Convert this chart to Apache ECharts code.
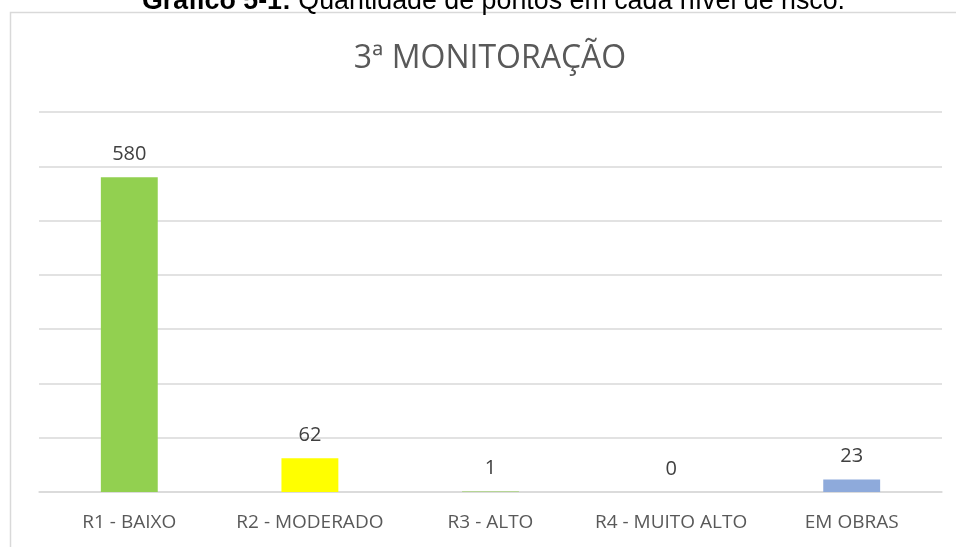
<!DOCTYPE html>
<html>
<head>
<meta charset="utf-8">
<script src="https://cdn.jsdelivr.net/npm/echarts@6/dist/echarts.min.js"></script>
<style>html,body{margin:0;padding:0;background:#fff}#c{width:956px;height:547px}</style>
</head>
<body>
<div id="c"></div>
<script>
const categories = ['R1 - BAIXO', 'R2 - MODERADO', 'R3 - ALTO', 'R4 - MUITO ALTO', 'EM OBRAS'];
const values = [580, 62, 1, 0, 23];
const barColors = ['#92d050', '#ffff00', '#92d050', '#92d050', '#8eaadb'];
const yMin = 0, yMax = 700, yStep = 100;

const chart = echarts.init(document.getElementById('c'), null, {renderer: 'canvas'});
chart.setOption({
  animation: false,
  backgroundColor: '#ffffff',
  title: {
    text: '3ª MONITORAÇÃO',
    left: 485, top: 38, textAlign: 'center',
    textStyle: {fontFamily: 'Open Sans', fontWeight: 'normal', fontSize: 32, color: '#595959'}
  },
  graphic: [
    {type: 'rect', shape: {x: 10.5, y: 12.5, width: 960, height: 560}, style: {fill: 'none', stroke: '#d9d9d9', lineWidth: 1.5}, silent: true, z: -1},
    {type: 'text', z: 10, style: {
      x: 142, y: 2, align: 'left', verticalAlign: 'middle',
      text: '{b|Gráfico 5-1:} Quantidade de pontos em cada nível de risco.',
      rich: {b: {fontWeight: 'bold', fontFamily: 'Liberation Sans', fontSize: 26.8, fill: '#000'}},
      fontFamily: 'Liberation Sans', fontSize: 26.8, fill: '#000'}}
  ],
  grid: {left: 39, right: 14, top: 112, bottom: 55},
  xAxis: {
    type: 'category', data: categories,
    axisLine: {lineStyle: {color: '#d9d9d9', width: 1.5}},
    axisTick: {show: false},
    axisLabel: {interval: 0, hideOverlap: false, fontFamily: 'Open Sans', fontSize: 19, color: '#595959', margin: 21}
  },
  yAxis: {
    type: 'value', min: yMin, max: yMax, interval: yStep,
    axisLabel: {show: false}, axisLine: {show: false}, axisTick: {show: false},
    splitLine: {lineStyle: {color: '#d9d9d9', width: 1.5}}
  },
  series: [{
    type: 'bar', barWidth: '31.5%',
    data: values.map((v, i) => ({value: v, itemStyle: {color: barColors[i]}})),
    label: {show: true, position: 'top', distance: 13, fontFamily: 'Open Sans', fontSize: 20, color: '#404040'}
  }]
});
</script>
</body>
</html>
